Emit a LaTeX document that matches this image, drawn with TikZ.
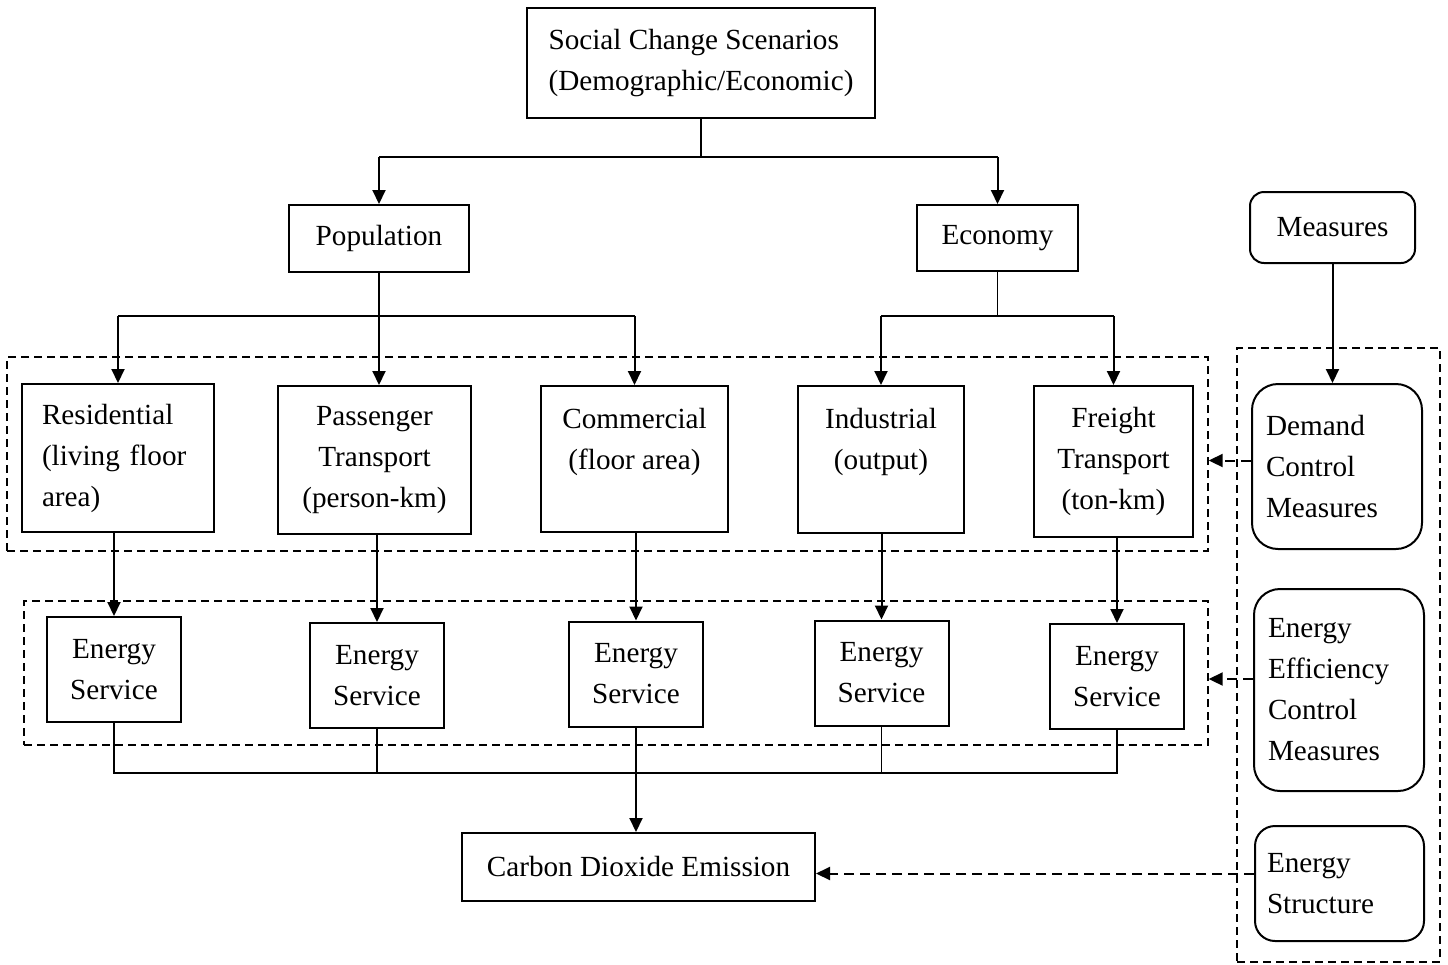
\documentclass[tikz,border=0pt]{standalone}
\usepackage{fontspec}
\setmainfont{Liberation Serif}
\usetikzlibrary{arrows.meta}
\begin{document}
\begin{tikzpicture}[x=0.5pt,y=-0.5pt,
  every node/.style={font=\fontsize{14.6pt}{20.5pt}\selectfont},
  box/.style={draw, line width=1pt, inner sep=0pt, align=center},
  lbox/.style={draw, line width=1pt, inner ysep=0pt, align=left},
  rbox/.style={draw, line width=1pt, inner ysep=0pt, align=left, rounded corners=13pt},
  dbox/.style={draw, line width=0.7pt, dash pattern=on 4pt off 2.5pt, inner sep=0pt},
  arr/.style={-{Triangle[length=7pt,width=6.5pt]}, line width=1pt},
  ln/.style={line width=0.9pt},
  darr/.style={-{Triangle[length=7pt,width=6.5pt]}, line width=1pt, dash pattern=on 5pt off 3pt}]
\useasboundingbox (0,0) rectangle (1448,965);

% dashed groups
\node[dbox, minimum width=600.5pt, minimum height=97pt] (g1) at (607.5,454) {};
\node[dbox, minimum width=592pt, minimum height=72pt] (g2) at (616,673) {};
\node[dbox, minimum width=101.5pt, minimum height=307pt] (g3) at (1338.5,655) {};

% main nodes
\node[box, align=left, minimum width=174pt, minimum height=55pt] (top) at (701,63) {Social Change Scenarios\\(Demographic/Economic)};
\node[box, minimum width=90pt, minimum height=33.5pt] (pop) at (379,238.5) {Population};
\node[box, minimum width=80.5pt, minimum height=33pt] (eco) at (997.5,238) {Economy};
\node[box, rounded corners=7pt, minimum width=82.5pt, minimum height=35.5pt] (meas) at (1332.5,227.5) {Measures};

\node[lbox, inner xsep=10pt, text width=76pt, minimum height=74pt] (res) at (118,458) {Residential\\(living~floor\\area)};
\node[box, minimum width=96.5pt, minimum height=74pt] (pas) at (374.5,460) {Passenger\\Transport\\(person-km)};
\node[box, minimum width=93.5pt, minimum height=73pt] (com) at (634.5,459) {Commercial\\(floor area)\\\mbox{}};
\node[box, minimum width=83pt, minimum height=73.5pt] (ind) at (881,459.5) {Industrial\\(output)\\\mbox{}};
\node[box, minimum width=79.5pt, minimum height=75.5pt] (fre) at (1113.5,461.5) {Freight\\Transport\\(ton-km)};

\node[rbox, inner xsep=7pt, text width=71pt, minimum height=82.5pt] (dem) at (1337,466.5) {Demand\\Control\\Measures};
\node[rbox, inner xsep=7pt, text width=71pt, minimum height=101pt] (eff) at (1339,690) {Energy\\Efficiency\\Control\\Measures};
\node[rbox, rounded corners=10pt, inner xsep=6pt, text width=72.5pt, minimum height=57.5pt] (str) at (1339.5,883.5) {Energy\\Structure};

\node[box, minimum width=67pt, minimum height=52.5pt] (es1) at (114,669.5) {Energy\\Service};
\node[box, minimum width=67pt, minimum height=52.5pt] (es2) at (377,675.5) {Energy\\Service};
\node[box, minimum width=67pt, minimum height=52.5pt] (es3) at (636,674) {Energy\\Service};
\node[box, minimum width=67pt, minimum height=52.5pt] (es4) at (881.5,673) {Energy\\Service};
\node[box, minimum width=67pt, minimum height=52.5pt] (es5) at (1117,676.5) {Energy\\Service};

\node[box, minimum width=176.5pt, minimum height=34pt] (co2) at (638.5,867) {Carbon Dioxide Emission};

% junction coordinates
\coordinate (j1) at (698,157);
\coordinate (j2) at (377,316);
\coordinate (j3) at (998,316);
\coordinate (j4) at (0,773);

% top tree
\draw[ln] (top.south) -- (top.south |- j1);
\draw[ln] (pop.north |- j1) -- (eco.north |- j1);
\draw[arr] (pop.north |- j1) -- (pop.north);
\draw[arr] (eco.north |- j1) -- (eco.north);

% population tree
\draw[arr] (pop.south) -- (pop.south |- pas.north);
\draw[ln] (res.north |- j2) -- (com.north |- j2);
\draw[arr] (res.north |- j2) -- (res.north);
\draw[arr] (com.north |- j2) -- (com.north);

% economy tree
\draw[ln] (eco.south) -- (eco.south |- j3);
\draw[ln] (ind.north |- j3) -- (fre.north |- j3);
\draw[arr] (ind.north |- j3) -- (ind.north);
\draw[arr] (fre.north |- j3) -- (fre.north);

% sectors to energy service
\draw[arr] (es1.north |- res.south) -- (es1.north);
\draw[arr] (es2.north |- pas.south) -- (es2.north);
\draw[arr] (es3.north |- com.south) -- (es3.north);
\draw[arr] (es4.north |- ind.south) -- (es4.north);
\draw[arr] (es5.north |- fre.south) -- (es5.north);

% energy service to CO2
\draw[ln] (es1.south) -- (es1.south |- j4) -- (es5.south |- j4) -- (es5.south);
\draw[ln] (es2.south) -- (es2.south |- j4);
\draw[ln] (es4.south) -- (es4.south |- j4);
\draw[arr] (es3.south) -- (es3.south |- co2.north);

% measures
\draw[arr] (meas.south) -- (meas.south |- dem.north);
\draw[darr] ([yshift=3pt]dem.west) -- ([yshift=3pt]dem.west -| g1.east);
\draw[darr] ([yshift=5.5pt]eff.west) -- ([yshift=5.5pt]eff.west -| g2.east);
\draw[darr] ([yshift=5pt]str.west) -- ([yshift=5pt]str.west -| co2.east);
\end{tikzpicture}
\end{document}
